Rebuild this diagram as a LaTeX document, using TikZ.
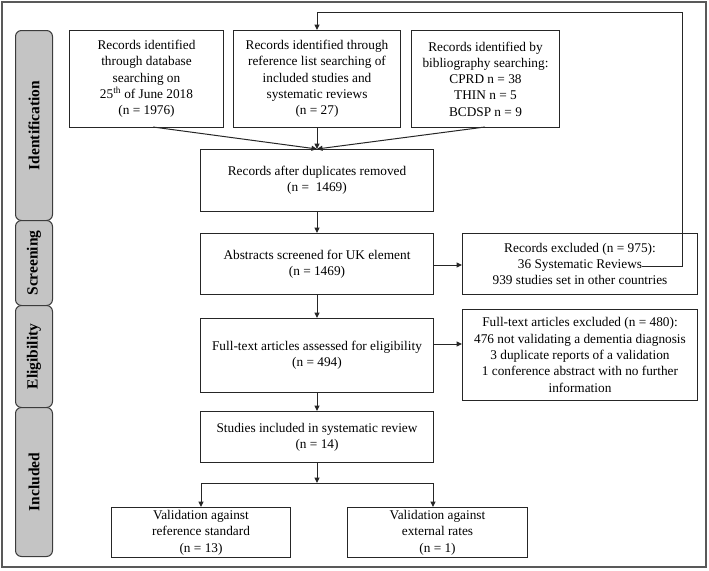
\documentclass[tikz,border=0pt]{standalone}
\usepackage{fontspec}
\setmainfont{Liberation Serif}
\usetikzlibrary{arrows.meta,calc}
\definecolor{lncol}{HTML}{262626}
\definecolor{sidefill}{HTML}{C4C4C4}
\begin{document}
\begin{tikzpicture}[x=1pt,y=-1pt,
  every node/.style={font=\fontsize{13.3}{16.3}\selectfont, text=black},
  box/.style={draw=lncol, line width=1pt, fill=white, align=center, inner sep=0pt, anchor=north west},
  side/.style={draw=lncol!90, line width=1pt, fill=sidefill, rounded corners=6pt, anchor=north west, inner sep=0pt, minimum width=37pt},
  sidetext/.style={rotate=90, font=\fontsize{15.5}{18}\selectfont\bfseries},
  arr/.style={draw=lncol, line width=1pt, -{Triangle[length=5.5pt,width=5pt]}},
  ln/.style={draw=lncol, line width=1pt}]
\useasboundingbox (0,0) rectangle (709,570);
\draw[draw=black!65, line width=2pt] (2,2) rectangle (706,567);

% side labels
\node[side, minimum height=190pt] (sid) at (15,30) {};
\node[sidetext] at (sid.center) {Identification};
\node[side, minimum height=85pt] (sscr) at (15,220) {};
\node[sidetext] at (sscr.center) {Screening};
\node[side, minimum height=102pt] (selg) at (15,305) {};
\node[sidetext] at (selg.center) {Eligibility};
\node[side, minimum height=149pt] (sinc) at (15,407) {};
\node[sidetext] at (sinc.center) {Included};

% identification boxes
\node[box, minimum width=154pt, minimum height=97pt] (db) at (69,30) {Records identified\\through database\\searching on\\25\textsuperscript{th} of June 2018\\(n = 1976)};
\node[box, minimum width=167pt, minimum height=97pt] (ref) at (233,30) {Records identified through\\reference list searching of\\included studies and\\systematic reviews\\(n = 27)};
\node[box, minimum width=148pt, minimum height=97pt] (bib) at (411,30) {Records identified by\\bibliography searching:\\CPRD n = 38\\THIN n = 5\\BCDSP n = 9};

\node[box, minimum width=233pt, minimum height=62pt] (dup) at (200,149) {Records after duplicates removed\\(n =\ \ 1469)};
\node[box, minimum width=233pt, minimum height=61pt] (abs) at (200,233) {Abstracts screened for UK element\\(n = 1469)};
\node[box, minimum width=235pt, minimum height=61pt] (exc1) at (462,233) {Records excluded (n = 975):\\36 Systematic Reviews\\939 studies set in other countries};
\node[box, minimum width=233pt, minimum height=74pt] (full) at (200,318) {Full-text articles assessed for eligibility\\(n = 494)};
\node[box, minimum width=235pt, minimum height=91pt] (exc2) at (462,309) {Full-text articles excluded (n = 480):\\476 not validating a dementia diagnosis\\3 duplicate reports of a validation\\1 conference abstract with no further\\information};
\node[box, minimum width=233pt, minimum height=51pt] (inc) at (200,411) {Studies included in systematic review\\(n = 14)};
\node[box, minimum width=179pt, minimum height=50pt] (val1) at (111,507) {Validation against\\reference standard\\(n = 13)};
\node[box, minimum width=180pt, minimum height=50pt] (val2) at (347,507) {Validation against\\external rates\\(n = 1)};

% connectors
\coordinate (merge) at (317,149);
\draw[arr] (153,127) -- (merge);
\draw[arr] (ref.south) -- (merge);
\draw[arr] (485,127) -- (merge);
\draw[arr] (dup.south -| merge) -- (abs.north -| merge);
\draw[arr] (abs.east) ++(0,1) coordinate (a1) -- (a1 -| exc1.west);
\draw[arr] (abs.south -| merge) -- (full.north -| merge);
\draw[arr] (433,344) -- (exc2.west |- 0,344);
\draw[arr] (full.south -| merge) -- (inc.north -| merge);
\coordinate (split) at (317,483);
\coordinate (splitR) at (433,483);
\draw[arr] (inc.south -| merge) -- (split);
\draw[ln] (val1.north |- split) -- (splitR);
\draw[arr] (val1.north |- split) -- (val1.north);
\draw[arr] (splitR) -- (splitR |- val2.north);
\coordinate (fb) at (642,266);
\draw[arr] (fb) -- (682,266) -- (682,12) -- (317,12) -- (ref.north);
\end{tikzpicture}
\end{document}
